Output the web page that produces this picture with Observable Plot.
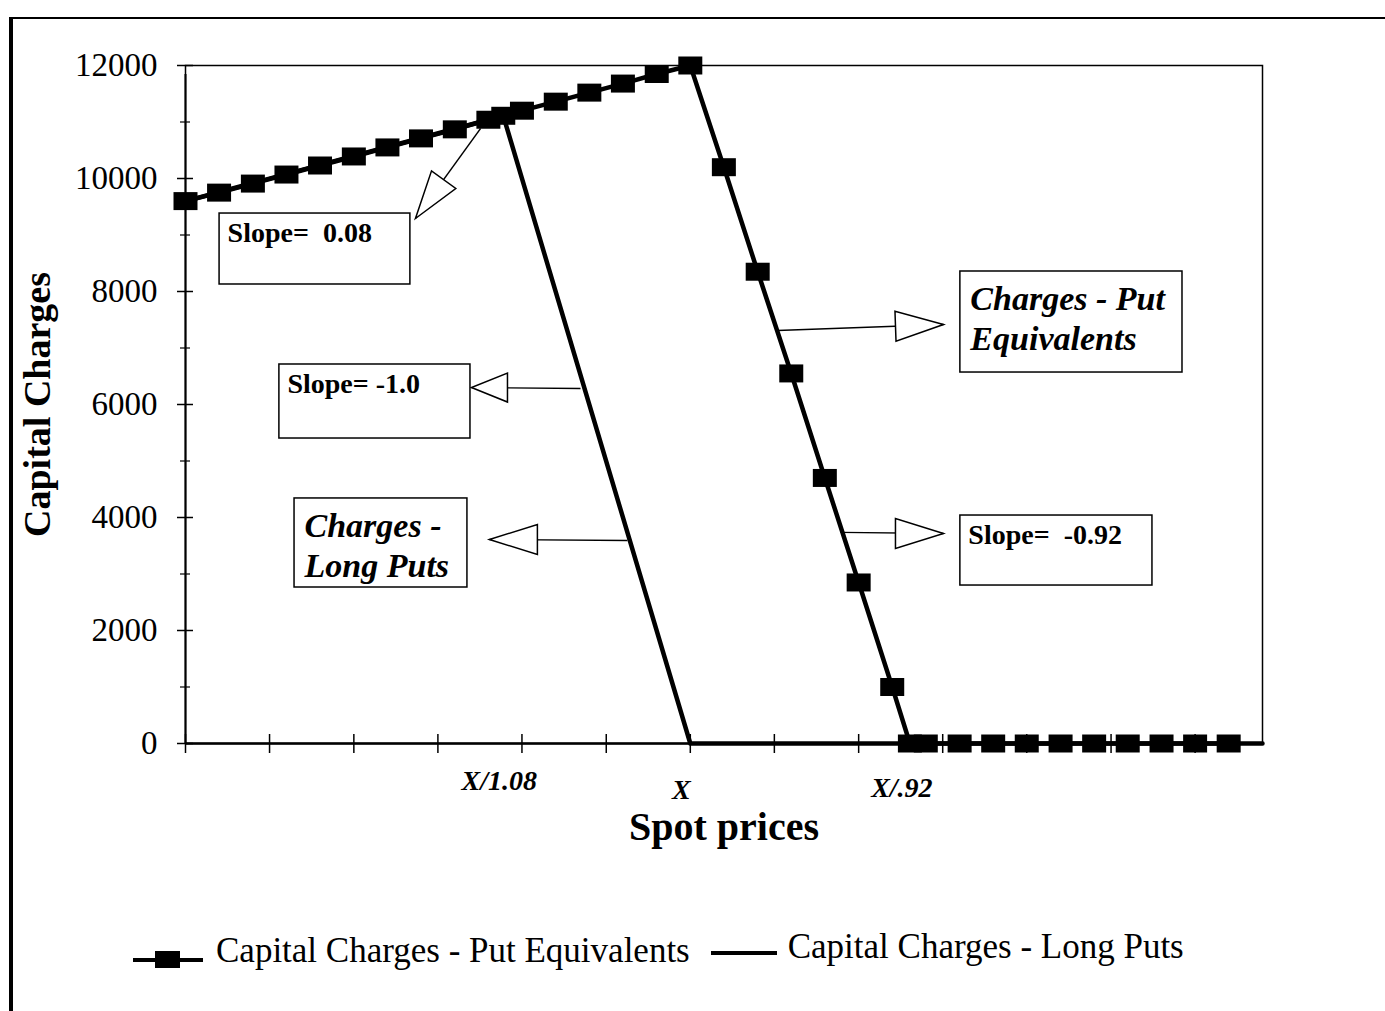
<!DOCTYPE html>
<html><head><meta charset="utf-8">
<script src="https://cdn.jsdelivr.net/npm/d3@7"></script>
<script src="https://cdn.jsdelivr.net/npm/@observablehq/plot@0.6"></script>
<style>
body{margin:0;background:#fff;}
#wrap{position:relative;width:1385px;height:1011px;overflow:hidden;background:#fff;font-family:"Liberation Serif","Times New Roman",serif;color:#000;}
#border{position:absolute;left:9px;top:17px;width:1400px;height:1000px;border-left:4px solid #000;border-top:2.5px solid #000;pointer-events:none;}
#chart{position:absolute;left:0;top:0;}
#legend{position:absolute;left:133px;top:933px;display:flex;align-items:flex-start;font-size:35px;line-height:35px;white-space:nowrap;}
#legend svg{display:block;}
</style></head><body>
<div id="wrap"><div id="chart"></div><div id="legend"></div><div id="border"></div></div>
<script>
// ---- data ----
// Put-equivalent series (markers), spot price units with X = 100
const spotPut = [80, 81.33, 82.67, 84, 85.33, 86.67, 88, 89.33, 90.67, 92, 92.59, 93.33, 94.67, 96, 97.33, 98.67, 100,
  101.33, 102.67, 104, 105.33, 106.67, 108, 108.70, 109.33, 110.67, 112, 113.33, 114.67, 116, 117.33, 118.67, 120, 121.33];
const chargePut = [9600, 9750, 9910, 10070, 10230, 10390, 10550, 10710, 10870, 11040, 11110, 11200, 11360, 11520, 11680, 11850, 12000,
  10200, 8350, 6550, 4700, 2850, 1000, 0, 0, 0, 0, 0, 0, 0, 0, 0, 0, 0];
// Long-puts series (line only)
const spotLong = [80, 92.59, 100, 122.67];
const chargeLong = [9600, 11110, 0, 0];

const seriesNames = ["Capital Charges - Put Equivalents", "Capital Charges - Long Puts"];

// axes
const xDomain = [80, 122.67];
const xTicks = [80, 83.33, 86.67, 90, 93.33, 96.67, 100, 103.33, 106.67, 110, 113.33, 116.67, 120];
const xTickLabels = ["X/1.08", "X", "X/.92"];
const xTickLabelSpots = [92.59, 100, 108.70];
const yMajor = [0, 2000, 4000, 6000, 8000, 10000, 12000];
const yMinor = [1000, 3000, 5000, 7000, 9000, 11000];
const xTitle = "Spot prices";
const yTitle = "Capital Charges";

// annotation boxes (data coordinates)
const boxText = ["Slope=  0.08", "Slope= -1.0", "Charges -\nLong Puts", "Charges - Put\nEquivalents", "Slope=  -0.92"];
const boxX1 = [81.35, 83.72, 84.32, 110.70, 110.70];
const boxX2 = [88.91, 91.29, 91.17, 119.50, 118.31];
const boxY1 = [8124, 5398, 2761, 6566, 2796];
const boxY2 = [9380, 6708, 4337, 8354, 4035];
// callout arrows: from a point on a line to the box
const arrowFromX = [91.69, 95.65, 97.51, 103.45, 105.95];
const arrowFromY = [10885, 6283, 3593, 7310, 3735];
const arrowToX = [89.11, 91.33, 92.04, 110.03, 110.03];
const arrowToY = [9292, 6300, 3611, 7416, 3717];

// ---- build tables ----
const putData = spotPut.map((s, i) => ({spot: s, charge: chargePut[i]}));
const longData = spotLong.map((s, i) => ({spot: s, charge: chargeLong[i]}));
const boxes = boxText.map((t, i) => ({text: t, x1: boxX1[i], x2: boxX2[i], y1: boxY1[i], y2: boxY2[i]}));
const arrows = arrowFromX.map((x, i) => ({x1: x, y1: arrowFromY[i], x2: arrowToX[i], y2: arrowToY[i]}));
const arrowAngle = [126, 180, 180, -2, 0];

const serif = '"Liberation Serif","Times New Roman",serif';
const square = {draw(ctx) { ctx.rect(-12, -9, 24, 18); }};
const tri = (L, H) => ({draw(ctx) { ctx.moveTo(0, 0); ctx.lineTo(-L, -H / 2); ctx.lineTo(-L, H / 2); ctx.closePath(); }});

const W = 1385, H = 880;
const labelOffsets = [{dx: -4, dy: 38}, {dx: -9, dy: 47}, {dx: -8, dy: 45}];

const slopeBoxes = boxes.filter(b => b.text.startsWith("Slope"));
const nameBoxes = boxes.filter(b => !b.text.startsWith("Slope"));

const chart = Plot.plot({
  width: W, height: H,
  marginLeft: 185, marginRight: W - 1262, marginTop: 65, marginBottom: H - 743,
  x: {domain: xDomain, axis: null},
  y: {domain: [0, 12000], axis: null},
  style: {fontFamily: serif, background: "transparent", color: "black", overflow: "visible"},
  marks: [
    Plot.frame({stroke: "black", strokeWidth: 1.5}),
    Plot.axisY({ticks: yMajor, tickSize: 0, tickPadding: 28, fontSize: 33, label: null, tickFormat: d => String(d)}),
    Plot.ruleX([xDomain[0]], {y1: 0, y2: 12000, stroke: "black", strokeWidth: 2, insetBottom: -9}),
    Plot.ruleY([0], {x1: xDomain[0], x2: xDomain[1], stroke: "black", strokeWidth: 2.5}),
    Plot.ruleY(yMajor, {x1: xDomain[0], x2: xDomain[0], insetLeft: -8, insetRight: -8, stroke: "black", strokeWidth: 1.5}),
    Plot.ruleY(yMinor, {x1: xDomain[0], x2: xDomain[0], insetLeft: -5, insetRight: -5, stroke: "black", strokeWidth: 1.2}),
    Plot.ruleX(xTicks, {y1: 0, y2: 0, insetTop: -9, insetBottom: -10, stroke: "black", strokeWidth: 1.5}),
    // series
    Plot.line(longData, {x: "spot", y: "charge", stroke: "black", strokeWidth: 4.5}),
    Plot.line(putData, {x: "spot", y: "charge", stroke: "black", strokeWidth: 4.5}),
    Plot.dot(putData, {x: "spot", y: "charge", symbol: square, fill: "black", stroke: "none"}),
    // x tick labels
    ...xTickLabels.map((t, i) => Plot.text([t], {x: xTickLabelSpots[i], y: 0, dx: labelOffsets[i].dx, dy: labelOffsets[i].dy,
      fontSize: 28, fontWeight: "bold", fontStyle: "italic", lineAnchor: "middle"})),
    // axis titles
    Plot.text([xTitle], {frameAnchor: "bottom", lineAnchor: "middle", textAnchor: "middle", dy: 84, fontSize: 40, fontWeight: "bold"}),
    Plot.text([yTitle], {frameAnchor: "left", lineAnchor: "middle", textAnchor: "middle", rotate: -90, dx: -148, fontSize: 38, fontWeight: "bold"}),
    // callouts
    Plot.link(arrows, {x1: "x1", y1: "y1", x2: "x2", y2: "y2", stroke: "black", strokeWidth: 1.3}),
    ...arrows.map((a, i) => Plot.dot([a], {x: "x2", y: "y2", symbol: i === 1 ? tri(36, 29) : tri(48, 30),
      rotate: arrowAngle[i], fill: "white", stroke: "black", strokeWidth: 1.5})),
    Plot.rect(boxes, {x1: "x1", x2: "x2", y1: "y1", y2: "y2", fill: "white", stroke: "black", strokeWidth: 1.5}),
    Plot.text(slopeBoxes, {x: "x1", y: "y2", text: "text", dx: 8, dy: 9, textAnchor: "start", lineAnchor: "top",
      fontSize: 28, fontWeight: "bold"}),
    Plot.text(nameBoxes, {x: "x1", y: "y2", text: "text", dx: 10, dy: 10, textAnchor: "start", lineAnchor: "top",
      fontSize: 34, fontWeight: "bold", fontStyle: "italic", lineHeight: 1.18})
  ]
});
document.getElementById("chart").appendChild(chart);

// legend
const legend = document.getElementById("legend");
const sw1 = `<svg width="72" height="35"><line x1="0" y1="27" x2="70" y2="27" stroke="black" stroke-width="4"/><rect x="22" y="18" width="25" height="18" fill="black"/></svg>`;
const sw2 = `<svg width="66" height="35"><line x1="0" y1="20" x2="66" y2="20" stroke="black" stroke-width="4"/></svg>`;
legend.innerHTML = sw1 + `<span style="margin-left:11px">${seriesNames[0]}</span>` +
  `<span style="margin-left:21px">${sw2}</span>` + `<span style="margin-left:11px;position:relative;top:-4px">${seriesNames[1]}</span>`;
</script>
</body></html>
